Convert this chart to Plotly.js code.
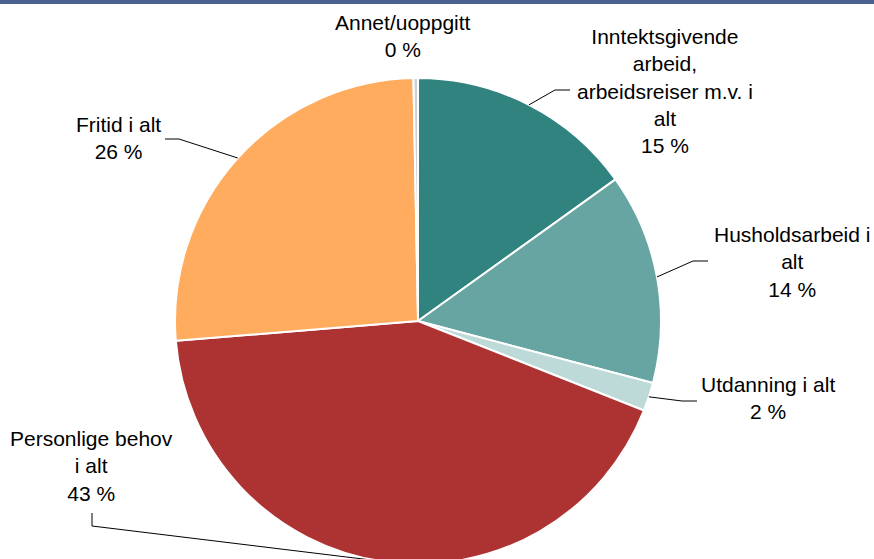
<!DOCTYPE html>
<html>
<head>
<meta charset="utf-8">
<script src="https://cdn.plot.ly/plotly-3.0.1.min.js"></script>
<style>
html,body{margin:0;padding:0;overflow:hidden;background:#fff;}
#chart{width:874px;height:600px;}
</style>
</head>
<body>
<div id="chart"></div>
<script>
// Data
const categories = [
  "Inntektsgivende arbeid, arbeidsreiser m.v. i alt",
  "Husholdsarbeid i alt",
  "Utdanning i alt",
  "Personlige behov i alt",
  "Fritid i alt",
  "Annet/uoppgitt"
];
const shares = [15.1, 14.0, 1.9, 42.7, 26.0, 0.3];
const labelTexts = [
  "Inntektsgivende<br>arbeid,<br>arbeidsreiser m.v. i<br>alt<br>15 %",
  "Husholdsarbeid i<br>alt<br>14 %",
  "Utdanning i alt<br>2 %",
  "Personlige behov<br>i alt<br>43 %",
  "Fritid i alt<br>26 %",
  "Annet/uoppgitt<br>0 %"
];
const colors = ["#318380", "#66A5A2", "#BDDAD9", "#AD3333", "#FFAC5E", "#C9D3DE"];

// Layout (pixels)
const W = 874, H = 600;
const cx = 418, cy = 321, R = 243;
// label anchor (center x, center y of text block) and leader elbow points
const labelPos = [
  {x: 665, y: 91},
  {x: 792, y: 262},
  {x: 768, y: 398},
  {x: 91, y: 466},
  {x: 118, y: 138},
  {x: 403, y: 36}
];
const leaders = [
  [[555, 90], [570, 90]],
  [[693, 261], [708, 261]],
  [[682, 401], [697, 401]],
  [[92, 526], [92, 513]],
  [[179, 139], [165, 139]],
  null
];

const px = x => x / W;
const py = y => 1 - y / H;

const total = shares.reduce((a, b) => a + b, 0);
let cum = 0;
const shapes = [];
shares.forEach((v, i) => {
  const mid = (cum + v / 2) / total * 2 * Math.PI;
  cum += v;
  if (!leaders[i]) return;
  const sx = cx + R * Math.sin(mid);
  const sy = cy - R * Math.cos(mid);
  const pts = [[sx, sy]].concat(leaders[i]);
  const path = pts.map((p, k) => (k ? "L" : "M") + px(p[0]) + "," + py(p[1])).join(" ");
  shapes.push({type: "path", xref: "paper", yref: "paper", path: path,
    line: {color: "#000000", width: 1}});
});
// top border
shapes.push({type: "rect", xref: "paper", yref: "paper", x0: 0, x1: 1,
  y0: py(4), y1: py(0), fillcolor: "#4A6090", line: {width: 0}, layer: "above"});

const annotations = labelTexts.map((t, i) => ({
  text: t, xref: "paper", yref: "paper",
  x: px(labelPos[i].x), y: py(labelPos[i].y),
  xanchor: "center", yanchor: "middle", showarrow: false, align: "center",
  font: {family: "Liberation Sans, Arial, sans-serif", size: 21, color: "#000000"}
}));

const trace = {
  type: "pie",
  labels: categories,
  values: shares,
  sort: false,
  direction: "clockwise",
  rotation: 0,
  textinfo: "none",
  textposition: "none",
  hoverinfo: "label+percent",
  marker: {colors: colors, line: {color: "#FFFFFF", width: 2}},
  domain: {x: [px(cx - R), px(cx + R)], y: [py(cy + R), py(cy - R)]},
  showlegend: false
};

Plotly.newPlot("chart", [trace], {
  width: W, height: H,
  margin: {l: 0, r: 0, t: 0, b: 0},
  paper_bgcolor: "#FFFFFF",
  showlegend: false,
  shapes: shapes,
  annotations: annotations
}, {displayModeBar: false, staticPlot: true});
</script>
</body>
</html>
